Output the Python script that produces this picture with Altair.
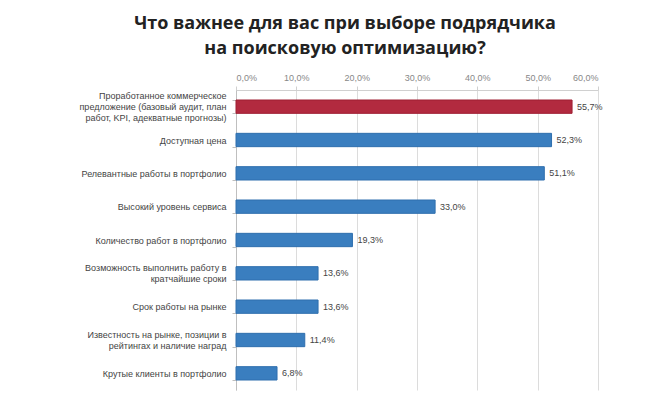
import altair as alt
import pandas as pd

categories = [
    "Проработанное коммерческое|предложение (базовый аудит, план|работ, KPI, адекватные прогнозы)",
    "Доступная цена",
    "Релевантные работы в портфолио",
    "Высокий уровень сервиса",
    "Количество работ в портфолио",
    "Возможность выполнить работу в|кратчайшие сроки",
    "Срок работы на рынке",
    "Известность на рынке, позиции в|рейтингах и наличие наград",
    "Крутые клиенты в портфолио",
]
values = [55.7, 52.3, 51.1, 33.0, 19.3, 13.6, 13.6, 11.4, 6.8]
highlight = [True, False, False, False, False, False, False, False, False]

df = pd.DataFrame({
    "cat": categories,
    "val": values,
    "hl": ["top" if h else "other" for h in highlight],
    "lbl": [f"{v:.1f}".replace(".", ",") + "%" for v in values],
})

y_enc = alt.Y(
    "cat:N",
    sort=categories,
    scale=alt.Scale(paddingInner=0.6, paddingOuter=0.3),
    axis=alt.Axis(
        title=None,
        labelExpr="split(datum.label, '|')",
        labelFontSize=9,
        labelColor="#444444",
        labelFont="Liberation Sans",
        labelLineHeight=11,
        labelBaseline="middle",
        labelOffset={
            "condition": [
                {"test": "length(split(datum.label, '|')) == 3", "value": -11},
                {"test": "length(split(datum.label, '|')) == 2", "value": -5.5},
            ],
            "value": 0,
        },
        labelPadding=6,
        labelLimit=300,
        domainColor="#bfbfbf",
        tickColor="#bfbfbf",
        tickSize=4,
        tickBand="extent",
        grid=False,
    ),
)

x_enc = alt.X(
    "val:Q",
    scale=alt.Scale(domain=[0, 60]),
    axis=alt.Axis(
        orient="top",
        title=None,
        values=[0, 10, 20, 30, 40, 50, 60],
        labelExpr="replace(format(datum.value, '.1f'), '.', ',') + '%'",
        labelFontSize=9,
        labelColor="#888888",
        labelFont="Liberation Sans",
        labelPadding=4,
        domainColor="#d0d0d0",
        tickColor="#d0d0d0",
        tickSize=4,
        gridColor="#dcdcdc",
        grid=True,
    ),
)

bars = alt.Chart(df).mark_bar(strokeWidth=1).encode(
    x=x_enc,
    y=y_enc,
    color=alt.Color(
        "hl:N",
        scale=alt.Scale(domain=["top", "other"], range=["#B22A3F", "#3A7EBF"]),
        legend=None,
    ),
    stroke=alt.Color(
        "hl:N",
        scale=alt.Scale(domain=["top", "other"], range=["#9E1F33", "#2F6FAE"]),
        legend=None,
    ),
)

labels = alt.Chart(df).mark_text(
    align="left", baseline="middle", dx=5, fontSize=9, color="#444444", font="Liberation Sans"
).encode(
    x="val:Q",
    y=alt.Y("cat:N", sort=categories),
    text="lbl:N",
)

chart = (bars + labels).properties(
    width=362,
    height=300,
    autosize=alt.AutoSizeParams(type="none"),
    padding={"left": 228, "top": 82, "right": 44, "bottom": 1},
    title=alt.TitleParams(
        text=["Что важнее для вас при выборе подрядчика", "на поисковую оптимизацию?"],
        fontSize=18,
        fontWeight="bold",
        font="Open Sans",
        color="#222222",
        anchor="middle",
        frame="group",
        dx=-72,
        offset=15,
        lineHeight=25,
    ),
).configure_view(stroke=None)

chart.save("out.html", embed_options={"renderer": "svg", "actions": False})
